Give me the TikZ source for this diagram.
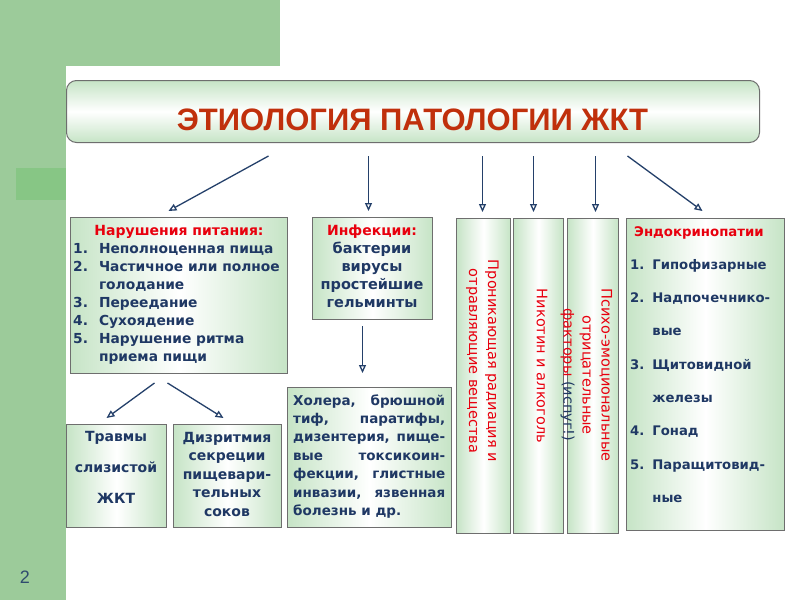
\documentclass[tikz,border=0pt]{standalone}
\usepackage{fontspec}
\setmainfont{Liberation Sans}
\newfontfamily\dvfont{DejaVu Sans}
\usetikzlibrary{arrows.meta,calc}
\definecolor{bggreen}{HTML}{9CCB9A}
\definecolor{sqgreen}{HTML}{87C685}
\definecolor{boxgreen}{HTML}{C6E4C6}
\definecolor{navy}{HTML}{1F3864}
\definecolor{titlered}{HTML}{C0300C}
\definecolor{headred}{HTML}{E8000E}
\definecolor{edge}{HTML}{6E6E6E}
\definecolor{arrowblue}{HTML}{24406A}
\definecolor{pagenum}{HTML}{2F4B6E}
\newcommand\setfs[2]{\fontsize{#1}{#2}\selectfont}
\begin{document}
\begin{tikzpicture}[x=1pt,y=-1pt,
  box/.style 2 args={draw=edge, line width=1pt, left color=boxgreen, right color=boxgreen, middle color=white,
    inner sep=0pt, anchor=north west, minimum width=#1, minimum height=#2},
  arr/.style={draw=arrowblue, line width=1.3pt, -{Triangle[open,length=8pt,width=7pt]}},
  txt/.style={inner sep=0pt, text=navy, font=\dvfont\bfseries\setfs{14.5}{18}},
  head/.style={inner sep=0pt, text=headred, font=\dvfont\bfseries\setfs{14}{18}},
  vtxt/.style={inner sep=0pt, text=headred, rotate=-90, align=center, font=\dvfont\setfs{14.5}{19}}]
\useasboundingbox (0,0) rectangle (800,600);
% background
\fill[white] (0,0) rectangle (800,600);
\fill[bggreen] (0,0) rectangle (280,66);
\fill[bggreen] (0,0) rectangle (66,600);
\fill[white, rounded corners=16pt] (66,66) rectangle (840,640);
\fill[sqgreen] (16,168) rectangle (66,200);
\node[inner sep=0pt, text=pagenum, font=\setfs{18}{20}] (pg) at (25,577) {2};

% title
\node[draw=edge, line width=1pt, rounded corners=10pt, top color=boxgreen, bottom color=boxgreen, middle color=white,
  inner sep=0pt, anchor=north west, minimum width=693pt, minimum height=62pt] (title) at (66,80) {};
\node[inner sep=0pt, text=titlered, font=\bfseries\setfs{31}{34}, anchor=base] (titletext) at (412.5,130) {ЭТИОЛОГИЯ ПАТОЛОГИИ ЖКТ};

% boxes
\node[box={217pt}{156pt}] (nutr) at (70,217) {};
\node[box={120pt}{102pt}] (inf) at (312,217) {};
\node[box={164pt}{140pt}] (chol) at (287,387) {};
\node[box={100pt}{103pt}] (trav) at (66,424) {};
\node[box={108pt}{103pt}] (dizr) at (173,424) {};
\node[box={54pt}{315pt}] (v1) at (456,218) {};
\node[box={50pt}{315pt}] (v2) at (513,218) {};
\node[box={51pt}{315pt}] (v3) at (567,218) {};
\node[box={158pt}{312pt}] (endo) at (626,218) {};

% nutrition text
\node[head, anchor=base] (nutrhead) at (179,235) {Нарушения питания:};
\node[txt, anchor=north west, font=\dvfont\bfseries\setfs{13.8}{18}] (nutrlist) at (73,240.4) {\begin{tabular}{@{}l@{\hspace{11pt}}l@{}}1.&Неполноценная пища\\2.&Частичное или полное\\&голодание\\3.&Переедание\\4.&Сухоядение\\5.&Нарушение ритма\\&приема пищи\end{tabular}};

% infections text
\node[txt, anchor=north] (inftext) at (372,222.4) {\begin{tabular}{@{}c@{}}\textcolor{headred}{\setfs{14}{18}Инфекции:}\\бактерии\\вирусы\\простейшие\\гельминты\end{tabular}};

% cholera text
\node[txt, anchor=north west, font=\dvfont\bfseries\setfs{13.5}{18.4}] (choltext) at (293,392.1) {\begin{tabular}{@{}l@{}}\makebox[152pt][s]{Холера, брюшной}\\\makebox[152pt][s]{тиф, паратифы,}\\\makebox[152pt][s]{дизентерия, пище-}\\\makebox[152pt][s]{вые токсикоин-}\\\makebox[152pt][s]{фекции, глистные}\\\makebox[152pt][s]{инвазии, язвенная}\\болезнь и др.\end{tabular}};

% trauma text
\node[txt, anchor=north, font=\dvfont\bfseries\setfs{14}{31}] (travtext) at (116,419.3) {\begin{tabular}{@{}c@{}}Травмы\\слизистой\\ЖКТ\end{tabular}};

% dysrhythmia text
\node[txt, anchor=north, font=\dvfont\bfseries\setfs{14}{18.5}] (dizrtext) at (227,429.05) {\begin{tabular}{@{}c@{}}Дизритмия\\секреции\\пищевари-\\тельных\\соков\end{tabular}};

% vertical texts
\node[vtxt] (v1text) at (482.5,361) {Проникающая радиация и\\отравляющие вещества};
\node[vtxt] (v2text) at (542,366) {Никотин и алкоголь};
\node[vtxt] (v3text) at (586.5,375) {Психо-эмоциональные\\отрицательные\\факторы \textcolor{navy}{(испуг!)}};

% endocrine text
\node[head, anchor=base, font=\dvfont\bfseries\setfs{13.3}{18}] (endohead) at (699,236) {Эндокринопатии};
\node[txt, anchor=north west, font=\dvfont\bfseries\setfs{13.2}{33.3}] (endolist) at (630,245.7) {\begin{tabular}{@{}l@{\hspace{8pt}}l@{}}1.&Гипофизарные\\2.&Надпочечнико-\\&вые\\3.&Щитовидной\\&железы\\4.&Гонад\\5.&Паращитовид-\\&ные\end{tabular}};

% arrows
\draw[arr] ([xshift=-144.5pt,yshift=-13pt]title.south) -- ([xshift=-10.5pt,yshift=6pt]nutr.north);
\draw[arr] ([xshift=-44.5pt,yshift=-13pt]title.south) -- ([xshift=-4pt,yshift=6pt]inf.north);
\draw[arr] ([xshift=69.5pt,yshift=-13pt]title.south) -- ([xshift=-1pt,yshift=6pt]v1.north);
\draw[arr] ([xshift=120.5pt,yshift=-13pt]title.south) -- ([xshift=-5pt,yshift=6pt]v2.north);
\draw[arr] ([xshift=182.5pt,yshift=-13pt]title.south) -- ([xshift=2.5pt,yshift=6pt]v3.north);
\draw[arr] ([xshift=214.5pt,yshift=-13pt]title.south) -- ([xshift=-3pt,yshift=7pt]endo.north);
\draw[arr] ([xshift=-10pt,yshift=-6pt]inf.south) -- ([xshift=-7pt,yshift=14pt]chol.north);
\draw[arr] ([xshift=-24.5pt,yshift=-9pt]nutr.south) -- ([xshift=-10pt,yshift=6pt]trav.north);
\draw[arr] ([xshift=-11.5pt,yshift=-9pt]nutr.south) -- ([xshift=-4pt,yshift=6pt]dizr.north);
\end{tikzpicture}
\end{document}
